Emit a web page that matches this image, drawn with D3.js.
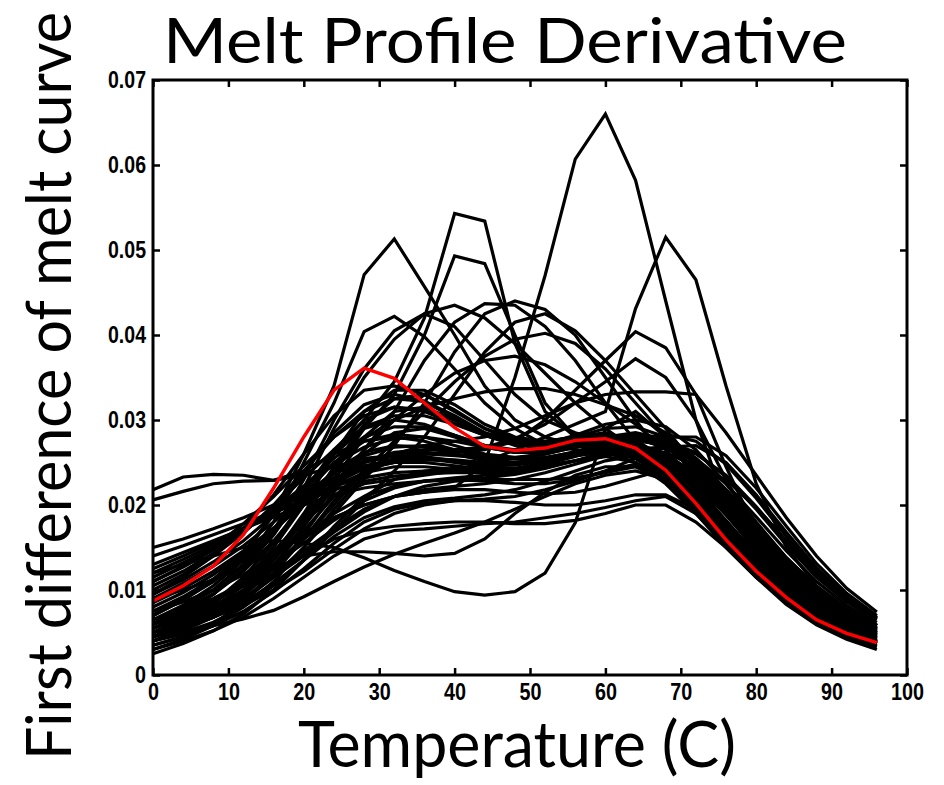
<!DOCTYPE html>
<html>
<head>
<meta charset="utf-8">
<script src="https://cdn.jsdelivr.net/npm/d3@7/dist/d3.min.js"></script>
<style>
  body { margin: 0; background: #fff; }
</style>
</head>
<body>
<svg></svg>
<script>
const width = 944;
const height = 785;
const margin = {top: 80, right: 37, bottom: 110, left: 153};

// temperatures at which the derivative was sampled
const temps = [0,4,8,12,16,20,24,28,32,36,40,44,48,52,56,60,64,68,72,76,80,84,88,92,96];

const xTickValues = [0,10,20,30,40,50,60,70,80,90,100];
const yTickValues = [0,0.01,0.02,0.03,0.04,0.05,0.06,0.07];
const yTickLabels = ["0","0.01","0.02","0.03","0.04","0.05","0.06","0.07"];

// highlighted sample
const redCurve = [.0087,.0105,.0128,.0165,.0220,.0280,.0335,.0361,.0349,.0320,.0291,.0269,.0264,.0267,.0276,.0278,.0267,.0241,.0202,.0159,.0122,.0091,.0065,.0049,.0038];

// the distinct outlier samples
const outlierCurves = [
  [.0070,.0090,.0110,.0140,.0190,.0260,.0340,.0471,.0513,.0457,.0400,.0340,.0300,.0280,.0270,.0265,.0255,.0230,.0195,.0155,.0120,.0090,.0068,.0052,.0040],
  [.0060,.0080,.0100,.0130,.0180,.0250,.0320,.0404,.0422,.0398,.0360,.0320,.0290,.0270,.0265,.0262,.0250,.0225,.0190,.0150,.0115,.0087,.0065,.0050,.0039],
  [.0050,.0065,.0085,.0110,.0150,.0200,.0260,.0300,.0345,.0420,.0543,.0534,.0390,.0310,.0280,.0270,.0260,.0240,.0205,.0165,.0125,.0093,.0068,.0052,.0040],
  [.0045,.0060,.0080,.0105,.0140,.0185,.0240,.0290,.0330,.0400,.0493,.0484,.0400,.0320,.0280,.0265,.0255,.0235,.0200,.0160,.0122,.0090,.0066,.0050,.0038],
  [.0040,.0055,.0070,.0095,.0130,.0160,.0185,.0200,.0210,.0215,.0220,.0250,.0350,.0470,.0607,.0660,.0582,.0440,.0300,.0200,.0140,.0105,.0080,.0062,.0048],
  [.0050,.0065,.0085,.0110,.0145,.0180,.0210,.0225,.0230,.0235,.0240,.0250,.0265,.0280,.0295,.0310,.0431,.0515,.0465,.0340,.0225,.0150,.0105,.0078,.0058],
  [.0120,.0130,.0140,.0150,.0158,.0155,.0150,.0138,.0123,.0110,.0098,.0094,.0098,.0120,.0179,.0290,.0310,.0280,.0230,.0175,.0130,.0095,.0070,.0054,.0042],
  [.0040,.0048,.0058,.0066,.0076,.0092,.0110,.0127,.0142,.0155,.0167,.0180,.0195,.0210,.0225,.0235,.0240,.0230,.0200,.0160,.0120,.0090,.0066,.0050,.0038],
  [.0218,.0233,.0236,.0235,.0229,.0240,.0260,.0275,.0280,.0275,.0265,.0255,.0250,.0252,.0258,.0262,.0255,.0235,.0200,.0160,.0122,.0092,.0068,.0052,.0040],
  [.0206,.0216,.0225,.0228,.0229,.0235,.0245,.0255,.0258,.0255,.0250,.0245,.0243,.0247,.0252,.0257,.0250,.0230,.0197,.0158,.0120,.0090,.0067,.0051,.0039],
  [.0060,.0075,.0095,.0125,.0170,.0230,.0300,.0360,.0405,.0425,.0435,.0420,.0390,.0355,.0320,.0290,.0265,.0235,.0200,.0160,.0122,.0091,.0067,.0051,.0039],
  [.0050,.0062,.0078,.0100,.0135,.0175,.0220,.0265,.0310,.0370,.0415,.0437,.0435,.0410,.0370,.0320,.0275,.0240,.0205,.0165,.0127,.0095,.0070,.0053,.0041],
  [.0045,.0055,.0068,.0088,.0115,.0150,.0190,.0230,.0270,.0320,.0380,.0425,.0440,.0430,.0400,.0350,.0300,.0255,.0215,.0173,.0133,.0100,.0074,.0056,.0043],
  [.0040,.0050,.0062,.0080,.0105,.0135,.0170,.0205,.0240,.0280,.0330,.0380,.0415,.0425,.0405,.0370,.0330,.0290,.0245,.0195,.0148,.0110,.0082,.0062,.0047],
  [.0050,.0060,.0075,.0095,.0125,.0160,.0200,.0240,.0275,.0310,.0345,.0375,.0395,.0402,.0390,.0360,.0320,.0280,.0237,.0190,.0145,.0108,.0080,.0060,.0046],
  [.0060,.0075,.0095,.0125,.0165,.0220,.0290,.0350,.0395,.0425,.0410,.0370,.0330,.0300,.0285,.0275,.0260,.0235,.0198,.0158,.0120,.0090,.0066,.0050,.0038],
  [.0055,.0068,.0085,.0108,.0140,.0180,.0225,.0265,.0300,.0330,.0355,.0370,.0375,.0365,.0345,.0320,.0295,.0265,.0225,.0180,.0138,.0103,.0076,.0057,.0044],
  [.0050,.0062,.0078,.0100,.0130,.0170,.0210,.0240,.0255,.0260,.0262,.0265,.0275,.0300,.0335,.0370,.0404,.0385,.0330,.0245,.0170,.0120,.0088,.0066,.0050],
  [.0055,.0068,.0085,.0110,.0145,.0185,.0225,.0250,.0262,.0265,.0265,.0268,.0278,.0295,.0320,.0345,.0372,.0350,.0300,.0230,.0165,.0118,.0087,.0065,.0049],
  [.0045,.0055,.0068,.0088,.0120,.0160,.0205,.0240,.0260,.0270,.0275,.0280,.0290,.0305,.0320,.0330,.0333,.0333,.0330,.0285,.0235,.0185,.0140,.0102,.0074],
  [.0050,.0060,.0072,.0090,.0115,.0140,.0160,.0170,.0175,.0178,.0180,.0180,.0178,.0178,.0182,.0190,.0200,.0200,.0180,.0150,.0115,.0087,.0065,.0049,.0037],
  [.0030,.0040,.0052,.0068,.0090,.0115,.0140,.0160,.0170,.0172,.0175,.0178,.0180,.0185,.0190,.0197,.0205,.0210,.0190,.0155,.0118,.0088,.0065,.0049,.0037],
  [.0060,.0072,.0088,.0105,.0125,.0140,.0145,.0145,.0143,.0140,.0143,.0160,.0190,.0215,.0235,.0245,.0245,.0228,.0195,.0155,.0118,.0088,.0065,.0049,.0037]
];

// the main bundle of samples
const bundleCurves = [
  [.0025,.0037,.0052,.0072,.0100,.0135,.0175,.0210,.0230,.0240,.0243,.0245,.0248,.0255,.0262,.0265,.0258,.0235,.0198,.0155,.0115,.0083,.0059,.0042,.0030],
  [.0030,.0042,.0058,.0080,.0110,.0150,.0195,.0235,.0255,.0260,.0258,.0255,.0255,.0260,.0268,.0272,.0262,.0238,.0200,.0158,.0118,.0086,.0062,.0045,.0033],
  [.0035,.0045,.0060,.0085,.0120,.0165,.0215,.0260,.0285,.0290,.0280,.0268,.0262,.0265,.0272,.0275,.0265,.0240,.0203,.0160,.0120,.0088,.0063,.0046,.0034],
  [.0040,.0052,.0068,.0092,.0128,.0175,.0230,.0280,.0310,.0315,.0300,.0282,.0270,.0270,.0276,.0280,.0270,.0245,.0207,.0164,.0123,.0090,.0065,.0048,.0035],
  [.0045,.0058,.0075,.0100,.0140,.0190,.0245,.0295,.0325,.0330,.0312,.0290,.0275,.0272,.0278,.0282,.0272,.0248,.0210,.0168,.0127,.0093,.0068,.0050,.0037],
  [.0050,.0065,.0085,.0115,.0155,.0205,.0260,.0310,.0335,.0335,.0318,.0295,.0280,.0275,.0280,.0285,.0275,.0252,.0215,.0172,.0130,.0096,.0070,.0052,.0039],
  [.0055,.0072,.0095,.0125,.0165,.0215,.0265,.0300,.0315,.0312,.0300,.0285,.0275,.0272,.0278,.0283,.0276,.0255,.0220,.0178,.0136,.0101,.0074,.0055,.0042],
  [.0060,.0078,.0100,.0130,.0170,.0215,.0260,.0290,.0300,.0295,.0282,.0270,.0265,.0268,.0275,.0280,.0275,.0255,.0222,.0180,.0139,.0104,.0077,.0058,.0044],
  [.0065,.0082,.0105,.0135,.0172,.0212,.0250,.0275,.0283,.0280,.0270,.0260,.0256,.0260,.0268,.0274,.0268,.0250,.0218,.0178,.0138,.0104,.0077,.0058,.0045],
  [.0070,.0088,.0110,.0138,.0172,.0208,.0240,.0262,.0270,.0268,.0260,.0252,.0250,.0255,.0263,.0270,.0266,.0250,.0220,.0182,.0142,.0108,.0080,.0060,.0046],
  [.0075,.0092,.0113,.0140,.0170,.0202,.0230,.0250,.0258,.0257,.0252,.0247,.0247,.0252,.0260,.0268,.0266,.0252,.0225,.0188,.0148,.0112,.0084,.0063,.0048],
  [.0080,.0097,.0118,.0143,.0172,.0200,.0225,.0243,.0250,.0250,.0246,.0242,.0243,.0250,.0260,.0270,.0270,.0258,.0232,.0195,.0155,.0118,.0088,.0066,.0050],
  [.0085,.0102,.0122,.0146,.0173,.0200,.0222,.0238,.0245,.0245,.0242,.0240,.0242,.0250,.0262,.0275,.0278,.0268,.0242,.0205,.0163,.0124,.0093,.0070,.0053],
  [.0090,.0108,.0128,.0152,.0180,.0210,.0238,.0258,.0268,.0270,.0265,.0258,.0255,.0260,.0270,.0280,.0282,.0270,.0243,.0205,.0164,.0126,.0095,.0071,.0054],
  [.0095,.0112,.0133,.0158,.0188,.0222,.0255,.0280,.0292,.0292,.0282,.0270,.0262,.0262,.0270,.0280,.0285,.0277,.0252,.0215,.0172,.0132,.0099,.0074,.0056],
  [.0100,.0118,.0140,.0167,.0200,.0240,.0280,.0310,.0325,.0322,.0305,.0285,.0272,.0268,.0272,.0280,.0283,.0275,.0252,.0217,.0176,.0136,.0102,.0076,.0058],
  [.0105,.0122,.0143,.0168,.0198,.0232,.0265,.0292,.0305,.0305,.0295,.0282,.0272,.0268,.0272,.0278,.0278,.0268,.0245,.0210,.0170,.0131,.0098,.0073,.0055],
  [.0110,.0127,.0147,.0170,.0195,.0222,.0248,.0268,.0278,.0280,.0275,.0268,.0262,.0262,.0268,.0275,.0277,.0270,.0250,.0218,.0178,.0138,.0104,.0078,.0059],
  [.0115,.0132,.0150,.0170,.0192,.0215,.0236,.0252,.0260,.0262,.0260,.0256,.0254,.0256,.0262,.0270,.0275,.0272,.0255,.0225,.0186,.0146,.0110,.0082,.0062],
  [.0120,.0136,.0153,.0172,.0192,.0213,.0232,.0246,.0253,.0255,.0253,.0250,.0250,.0253,.0260,.0268,.0275,.0275,.0262,.0233,.0195,.0153,.0115,.0086,.0065],
  [.0125,.0140,.0156,.0173,.0190,.0207,.0222,.0232,.0238,.0240,.0240,.0240,.0242,.0248,.0257,.0268,.0278,.0283,.0275,.0248,.0208,.0163,.0122,.0090,.0067],
  [.0130,.0144,.0158,.0172,.0186,.0200,.0212,.0220,.0225,.0228,.0230,.0232,.0236,.0243,.0252,.0262,.0272,.0280,.0280,.0258,.0220,.0175,.0131,.0096,.0070],
  [.0140,.0152,.0165,.0178,.0192,.0206,.0218,.0228,.0234,.0237,.0238,.0238,.0240,.0245,.0252,.0260,.0266,.0268,.0260,.0235,.0198,.0157,.0118,.0088,.0066],
  [.0150,.0160,.0172,.0185,.0200,.0215,.0230,.0242,.0250,.0253,.0252,.0250,.0250,.0253,.0258,.0263,.0265,.0258,.0238,.0205,.0166,.0128,.0096,.0072,.0054],
  [.0035,.0045,.0058,.0075,.0098,.0125,.0155,.0180,.0195,.0202,.0205,.0207,.0210,.0218,.0228,.0240,.0248,.0240,.0212,.0172,.0130,.0096,.0070,.0052,.0039],
  [.0045,.0055,.0068,.0085,.0108,.0135,.0163,.0185,.0198,.0205,.0208,.0212,.0218,.0228,.0240,.0252,.0258,.0252,.0228,.0190,.0148,.0110,.0080,.0059,.0044],
  [.0055,.0066,.0080,.0098,.0120,.0146,.0172,.0195,.0210,.0218,.0222,.0225,.0230,.0238,.0248,.0258,.0262,.0255,.0232,.0195,.0153,.0115,.0085,.0063,.0047],
  [.0065,.0076,.0090,.0108,.0130,.0155,.0182,.0205,.0220,.0228,.0232,.0235,.0238,.0244,.0252,.0260,.0265,.0262,.0245,.0212,.0170,.0130,.0097,.0072,.0054],
  [.0075,.0086,.0100,.0118,.0140,.0165,.0190,.0210,.0222,.0228,.0230,.0228,.0225,.0225,.0230,.0240,.0255,.0268,.0270,.0250,.0212,.0168,.0126,.0093,.0068],
  [.0090,.0100,.0112,.0127,.0145,.0165,.0185,.0200,.0210,.0215,.0218,.0218,.0215,.0213,.0215,.0222,.0232,.0242,.0245,.0230,.0197,.0158,.0120,.0090,.0067],
  [.0050,.0058,.0068,.0082,.0100,.0122,.0148,.0172,.0190,.0200,.0205,.0205,.0203,.0200,.0200,.0205,.0212,.0212,.0195,.0160,.0122,.0091,.0067,.0050,.0038],
  [.0060,.0070,.0082,.0098,.0118,.0142,.0168,.0192,.0210,.0222,.0228,.0230,.0230,.0230,.0232,.0238,.0245,.0248,.0235,.0200,.0158,.0119,.0088,.0066,.0050],
  [.0095,.0115,.0140,.0172,.0212,.0260,.0305,.0335,.0340,.0330,.0310,.0290,.0278,.0275,.0280,.0290,.0292,.0280,.0255,.0218,.0177,.0137,.0103,.0077,.0058],
  [.0070,.0088,.0112,.0145,.0188,.0238,.0285,.0318,.0330,.0322,.0302,.0283,.0272,.0272,.0282,.0295,.0300,.0292,.0265,.0225,.0180,.0138,.0103,.0077,.0058],
  [.0110,.0128,.0150,.0178,.0210,.0246,.0280,.0305,.0315,.0310,.0296,.0282,.0272,.0268,.0270,.0275,.0272,.0260,.0236,.0200,.0160,.0122,.0092,.0069,.0052],
  [.0060,.0075,.0095,.0122,.0158,.0200,.0242,.0278,.0300,.0315,.0325,.0333,.0337,.0337,.0330,.0318,.0305,.0285,.0252,.0208,.0162,.0122,.0090,.0067,.0051]
];

const svg = d3.select("svg")
    .attr("width", width)
    .attr("height", height);

const x = d3.scaleLinear()
    .domain([0, 100])
    .range([margin.left, width - margin.right]);

const y = d3.scaleLinear()
    .domain([0, 0.07])
    .range([height - margin.bottom, margin.top]);

const line = d3.line()
    .x((d, i) => x(temps[i]))
    .y(d => y(d));

const plot = svg.append("g");

plot.selectAll(".curve")
    .data(bundleCurves.concat(outlierCurves))
    .enter().append("path")
    .attr("class", "curve")
    .attr("d", line)
    .attr("fill", "none")
    .attr("stroke", "#000")
    .attr("stroke-width", 3.2);

plot.append("path")
    .datum(redCurve)
    .attr("d", line)
    .attr("fill", "none")
    .attr("stroke", "#ff0000")
    .attr("stroke-width", 3.4);

// axes with inward ticks on all four sides
const yFormat = (d, i) => yTickLabels[i];

const xAxis = svg.append("g")
    .attr("transform", `translate(0,${height - margin.bottom})`)
    .call(d3.axisBottom(x).tickValues(xTickValues).tickSizeInner(-7).tickSizeOuter(0).tickPadding(8));

svg.append("g")
    .attr("transform", `translate(0,${margin.top})`)
    .call(d3.axisTop(x).tickValues(xTickValues).tickSizeInner(-7).tickSizeOuter(0).tickFormat(""));

const yAxis = svg.append("g")
    .attr("transform", `translate(${margin.left},0)`)
    .call(d3.axisLeft(y).tickValues(yTickValues).tickSizeInner(-7).tickSizeOuter(0).tickPadding(7).tickFormat(yFormat));

svg.append("g")
    .attr("transform", `translate(${width - margin.right},0)`)
    .call(d3.axisRight(y).tickValues(yTickValues).tickSizeInner(-7).tickSizeOuter(0).tickFormat(""));

svg.selectAll(".domain").remove();
svg.selectAll(".tick line").attr("stroke", "#000").attr("stroke-width", 2.5);

// bold, slightly condensed tick labels
[xAxis, yAxis].forEach(g => g
    .attr("font-size", 24)
    .attr("font-family", "'Liberation Sans', Arial, sans-serif")
    .attr("font-weight", "bold")
    .selectAll("text")
    .attr("fill", "#000")
    .attr("textLength", function() { return this.textContent.replace(".", "").length * 11 + (this.textContent.includes(".") ? 5 : 0); })
    .attr("lengthAdjust", "spacingAndGlyphs"));

svg.append("rect")
    .attr("x", margin.left)
    .attr("y", margin.top)
    .attr("width", width - margin.left - margin.right)
    .attr("height", height - margin.top - margin.bottom)
    .attr("fill", "none")
    .attr("stroke", "#000")
    .attr("stroke-width", 3);

const bigFont = "Lato, 'Open Sans', sans-serif";

svg.append("text")
    .attr("x", 163)
    .attr("y", 63)
    .attr("font-family", bigFont)
    .attr("font-size", 62)
    .attr("textLength", 684)
    .attr("lengthAdjust", "spacingAndGlyphs")
    .text("Melt Profile Derivative");

svg.append("text")
    .attr("x", 298)
    .attr("y", 767)
    .attr("font-family", bigFont)
    .attr("font-size", 63)
    .attr("textLength", 438)
    .attr("lengthAdjust", "spacingAndGlyphs")
    .text("Temperature (C)");

svg.append("text")
    .attr("transform", "translate(71,760) rotate(-90)")
    .attr("font-family", bigFont)
    .attr("font-size", 62)
    .attr("textLength", 748)
    .attr("lengthAdjust", "spacingAndGlyphs")
    .text("First difference of melt curve");
</script>
</body>
</html>
